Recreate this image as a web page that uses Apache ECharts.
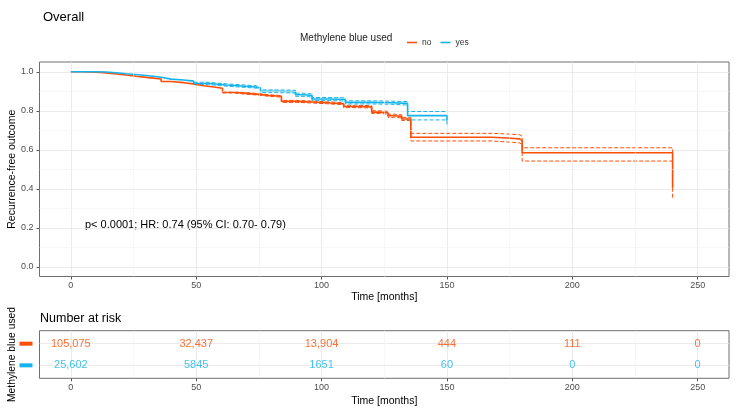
<!DOCTYPE html>
<html>
<head>
<meta charset="utf-8">
<script src="https://cdn.jsdelivr.net/npm/echarts@6/dist/echarts.min.js"></script>
<style>
  html, body { margin: 0; padding: 0; background: #fff; }
  #chart { width: 741px; height: 413px; }
</style>
</head>
<body>
<div id="chart"></div>
<script>
// axis ticks
var timeTicks = [0, 50, 100, 150, 200, 250];
var minorTimeTicks = [25, 75, 125, 175, 225];
var survTicks = [0, 0.2, 0.4, 0.6, 0.8, 1.0];
var minorSurvTicks = [0.1, 0.3, 0.5, 0.7, 0.9];

// Kaplan-Meier, methylene blue not used
var kmNo = [[0,1.0],[5,0.997],[12,0.99],[17,0.983],[22,0.977],[26,0.97],[31,0.963],[36,0.95],[40,0.944],[45,0.938],[49,0.928],[53,0.922],[57,0.915],[60.5,0.895],[65,0.889],[70,0.884],[75,0.878],[79,0.874],[84,0.848],[90,0.845],[96,0.841],[102,0.836],[108.8,0.822],[114,0.82],[120,0.793],[123,0.79],[126.5,0.774],[129,0.771],[132,0.758],[135.6,0.664],[168,0.66],[174,0.656],[179,0.648],[180,0.585],[240,0.405]];
var kmNoUpper = [[60.5,0.899],[65,0.893],[70,0.888],[75,0.882],[79,0.878],[84,0.853],[90,0.85],[96,0.846],[102,0.841],[108.8,0.828],[114,0.826],[120,0.8],[123,0.797],[126.5,0.782],[129,0.779],[132,0.766],[135.6,0.684],[168,0.681],[174,0.677],[179,0.67],[180,0.61],[240,0.46]];
var kmNoLower = [[60.5,0.891],[65,0.885],[70,0.88],[75,0.874],[79,0.87],[84,0.843],[90,0.84],[96,0.836],[102,0.831],[108.8,0.816],[114,0.814],[120,0.786],[123,0.783],[126.5,0.766],[129,0.763],[132,0.75],[135.6,0.645],[168,0.64],[174,0.635],[179,0.627],[180,0.542],[240,0.35]];

// Kaplan-Meier, methylene blue used
var kmYes = [[0,1.0],[8,0.999],[14,0.995],[18,0.99],[22,0.985],[27,0.978],[32,0.972],[36,0.962],[40,0.958],[45,0.952],[49,0.94],[55,0.932],[62,0.927],[68,0.922],[74,0.915],[75.6,0.9],[82,0.898],[89.6,0.882],[93,0.878],[96.2,0.86],[103,0.858],[109.5,0.843],[120,0.841],[128,0.838],[134.3,0.775],[150,0.75]];
var kmYesUpper = [[49,0.946],[55,0.938],[62,0.933],[68,0.928],[74,0.921],[75.6,0.907],[82,0.905],[89.6,0.89],[93,0.886],[96.2,0.868],[103,0.866],[109.5,0.851],[120,0.849],[128,0.847],[134.3,0.796],[150,0.796]];
var kmYesLower = [[49,0.934],[55,0.926],[62,0.921],[68,0.916],[74,0.909],[75.6,0.893],[82,0.891],[89.6,0.874],[93,0.87],[96.2,0.852],[103,0.85],[109.5,0.835],[120,0.833],[128,0.829],[134.3,0.753],[150,0.727]];

// number at risk
var riskNo = ['105,075', '32,437', '13,904', '444', '111', '0'];
var riskYes = ['25,602', '5845', '1651', '60', '0', '0'];

var colNo = '#FC4E07';
var colYes = '#14B4EB';
var font = 'Liberation Sans, Arial, sans-serif';

function xAx(idx, labelMargin, nameGap) {
    return {
        type: 'value', gridIndex: idx, min: -12.5, max: 262.5,
        name: 'Time [months]', nameLocation: 'middle', nameGap: nameGap, nameMoveOverlap: false,
        nameTextStyle: { fontSize: 10.5, color: '#000', fontFamily: font },
        axisLine: { show: false, onZero: false },
        axisTick: { show: true, length: 3, customValues: timeTicks, lineStyle: { color: '#555' } },
        axisLabel: { customValues: timeTicks, margin: labelMargin, fontSize: 9, color: '#4d4d4d', fontFamily: font },
        splitLine: { show: true, lineStyle: { color: '#e6e6e6', width: 0.8 } }
    };
}

function stepLine(name, data, color, dashed) {
    return {
        name: name, type: 'line', step: 'end', data: data,
        xAxisIndex: 0, yAxisIndex: 0, showSymbol: false, symbol: 'none', z: dashed ? 3 : 4,
        lineStyle: { color: color, width: dashed ? 1 : 1.6, type: dashed ? [4, 2] : 'solid' },
        itemStyle: { color: color }
    };
}

function riskSeries(name, row, labels, color) {
    return {
        name: name + '_risk', type: 'scatter', xAxisIndex: 1, yAxisIndex: 1,
        symbolSize: 0,
        data: timeTicks.map(function (t) { return [t, row]; }),
        label: {
            show: true, position: 'inside', fontSize: 11, color: color, fontFamily: font,
            formatter: function (p) { return labels[p.dataIndex]; }
        }
    };
}

var option = {
    animation: false,
    backgroundColor: '#fff',
    title: { text: 'Overall', left: 38, top: 6, textStyle: { fontSize: 13, fontWeight: 'normal', color: '#000', fontFamily: font } },
    legend: {
        data: ['no', 'yes'], left: 402, top: 33, icon: 'rect', itemWidth: 10, itemHeight: 1.6, itemGap: 9,
        textStyle: { fontSize: 8.5, color: '#333', fontFamily: font }
    },
    graphic: [
        { type: 'text', left: 300, top: 33, style: { text: 'Methylene blue used', fontSize: 10, fill: '#222', fontFamily: font } },
        { type: 'text', left: 85, top: 219, style: { text: 'p< 0.0001; HR: 0.74 (95% CI: 0.70- 0.79)', fontSize: 11, fill: '#000', fontFamily: font } },
        { type: 'text', left: 40, top: 312, style: { text: 'Number at risk', fontSize: 12.5, fill: '#000', fontFamily: font } }
    ],
    grid: [
        { left: 39.5, right: 12, top: 62, height: 214.5, show: true, borderColor: '#6e6e6e', borderWidth: 1, outerBoundsMode: 'none', containLabel: false },
        { left: 39.5, right: 12, top: 330.7, height: 47.6, show: true, borderColor: '#6e6e6e', borderWidth: 1, outerBoundsMode: 'none', containLabel: false }
    ],
    xAxis: [xAx(0, 5, 15), xAx(1, 5, 17)],
    yAxis: [
        {
            type: 'value', gridIndex: 0, min: -0.05, max: 1.05,
            name: 'Recurrence-free outcome', nameLocation: 'middle', nameGap: 22, nameRotate: 90, nameMoveOverlap: false,
            nameTextStyle: { fontSize: 10.5, color: '#000', fontFamily: font },
            axisLine: { show: false, onZero: false },
            axisTick: { show: true, length: 3, customValues: survTicks, lineStyle: { color: '#555' } },
            axisLabel: { customValues: survTicks, margin: 6, fontSize: 9, color: '#4d4d4d', fontFamily: font,
                formatter: function (v) { return v.toFixed(1); } },
            splitLine: { show: true, lineStyle: { color: '#e6e6e6', width: 0.8 } }
        },
        {
            type: 'value', gridIndex: 1, min: 0.4, max: 2.6,
            name: 'Methylene blue used', nameLocation: 'middle', nameGap: 22, nameRotate: 90, nameMoveOverlap: false,
            nameTextStyle: { fontSize: 10.3, color: '#000', fontFamily: font },
            axisLine: { show: false, onZero: false },
            axisTick: { show: false, customValues: [1, 2] },
            axisLabel: {
                customValues: [1, 2], margin: 7,
                formatter: function (v) { return v === 2 ? '{no|}' : '{yes|}'; },
                rich: {
                    no: { backgroundColor: colNo, width: 13, height: 4 },
                    yes: { backgroundColor: colYes, width: 13, height: 4 }
                }
            },
            splitLine: { show: true, lineStyle: { color: '#e6e6e6', width: 0.8 } }
        }
    ],
    series: [
        {
            name: 'minorGrid', type: 'line', data: [], xAxisIndex: 0, yAxisIndex: 0, z: 1, silent: true,
            markLine: {
                silent: true, symbol: 'none', animation: false, label: { show: false },
                lineStyle: { color: '#f2f2f2', width: 0.6, type: 'solid' },
                data: minorTimeTicks.map(function (t) { return { xAxis: t }; })
                    .concat(minorSurvTicks.map(function (s) { return { yAxis: s }; }))
            }
        },
        {
            name: 'minorGridRisk', type: 'line', data: [], xAxisIndex: 1, yAxisIndex: 1, z: 1, silent: true,
            markLine: {
                silent: true, symbol: 'none', animation: false, label: { show: false },
                lineStyle: { color: '#f2f2f2', width: 0.6, type: 'solid' },
                data: minorTimeTicks.map(function (t) { return { xAxis: t }; })
            }
        },
        stepLine('no', kmNo, colNo, false),
        stepLine('yes', kmYes, colYes, false),
        stepLine('no_upper', kmNoUpper, colNo, true),
        stepLine('no_lower', kmNoLower, colNo, true),
        stepLine('yes_upper', kmYesUpper, colYes, true),
        stepLine('yes_lower', kmYesLower, colYes, true),
        riskSeries('no', 2, riskNo, colNo),
        riskSeries('yes', 1, riskYes, colYes)
    ]
};

var chart = echarts.init(document.getElementById('chart'));
chart.setOption(option);
</script>
</body>
</html>
